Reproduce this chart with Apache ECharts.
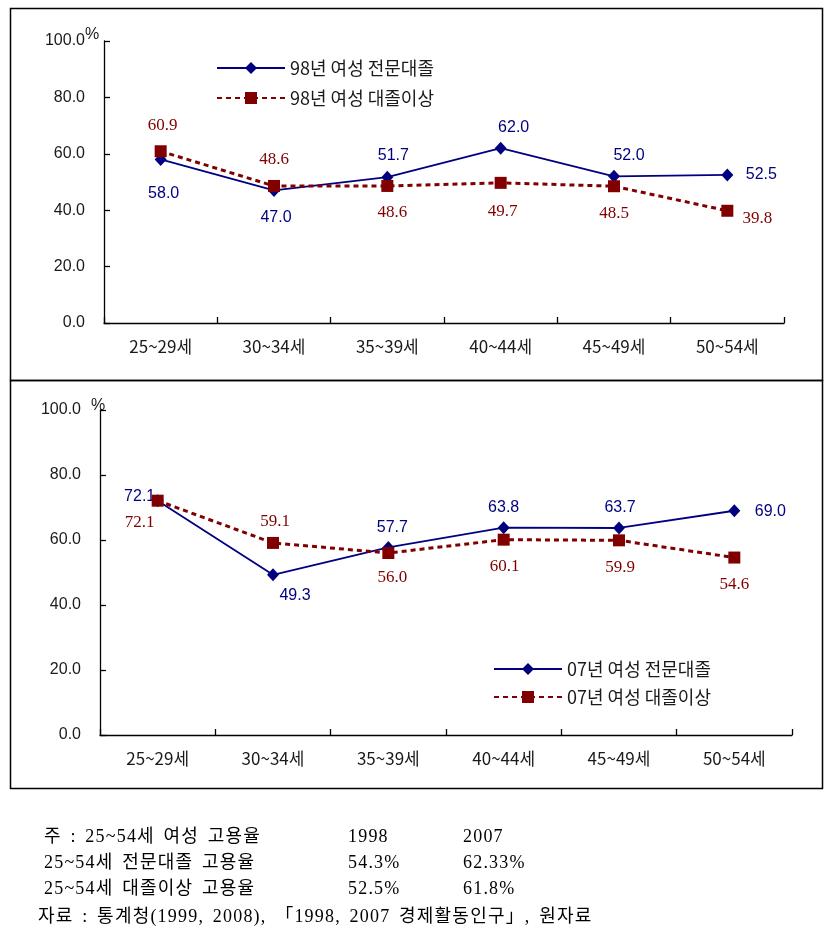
<!DOCTYPE html>
<html>
<head>
<meta charset="utf-8">
<script src="https://cdn.jsdelivr.net/npm/echarts@6/dist/echarts.min.js"></script>
<style>
html,body{margin:0;padding:0;background:#fff;}
#wrap{position:relative;width:834px;height:942px;}
#c{position:absolute;left:0;top:0;width:834px;height:942px;}
.note{position:absolute;font-family:"Liberation Serif","Noto Sans CJK KR",serif;font-size:18px;line-height:20px;color:#000;white-space:pre;letter-spacing:1.2px;word-spacing:3px;}
</style>
</head>
<body>
<div id="wrap"><div id="c"></div></div>
<script>
const categories = ['25~29세','30~34세','35~39세','40~44세','45~49세','50~54세'];
const college98 = [58.0, 47.0, 51.7, 62.0, 52.0, 52.5];
const univ98 = [60.9, 48.6, 48.6, 49.7, 48.5, 39.8];
const college07 = [72.1, 49.3, 57.7, 63.8, 63.7, 69.0];
const univ07 = [72.1, 59.1, 56.0, 60.1, 59.9, 54.6];
const seriesNames = ['98년 여성 전문대졸', '98년 여성 대졸이상', '07년 여성 전문대졸', '07년 여성 대졸이상'];
const noteLines = [
  ['주 : 25~54세 여성 고용율', '1998', '2007'],
  ['25~54세 전문대졸 고용율', '54.3%', '62.33%'],
  ['25~54세 대졸이상 고용율', '52.5%', '61.8%']
];
const sourceLine = '자료 : 통계청(1999, 2008), 「1998, 2007 경제활동인구」, 원자료';

// label offsets (style only)
const offCollege98 = [[3,34],[2,27],[6,-22],[13,-21],[15,-21],[34,0]];
const offUniv98 = [[2,-26],[0,-26],[5,27],[2,29],[0,27],[30,8]];
const offCollege07 = [[-18,-4],[22,21],[4,-20],[0,-20],[1,-20],[36,1]];
const offUniv07 = [[-18,22],[2,-21],[4,25],[1,27],[1,27],[0,27]];

// notes as HTML text
const wrap = document.getElementById('wrap');
function addNote(text, x, yc){
  const d = document.createElement('div');
  d.className = 'note';
  d.textContent = text;
  d.style.left = x + 'px';
  d.style.top = (yc - 10) + 'px';
  wrap.appendChild(d);
}
const noteY = [836, 862, 888];
const noteX = [44, 348, 463];
noteLines.forEach((row, i)=> row.forEach((t, j)=> addNote(t, noteX[j], noteY[i])));
addNote(sourceLine, 38, 916);

const BLUE = '#000080', RED = '#800000';
const chart = echarts.init(document.getElementById('c'), null, {renderer:'canvas'});

function mkData(vals, offs){
  return vals.map((v,i)=>({value:v, label:{offset:offs[i]}}));
}
function yAxis(gi){
  return {type:'value', gridIndex:gi, min:0, max:100, interval:20,
    axisLine:{show:true, lineStyle:{color:'#000', width:1.3}},
    axisTick:{show:true, inside:true, length:6, lineStyle:{color:'#000', width:1.3}},
    splitLine:{show:false},
    axisLabel:{formatter:v=>v.toFixed(1), color:'#1a1a1a', fontSize:16, fontFamily:'Liberation Sans, Arial, sans-serif', margin:19}};
}
function xAxis(gi){
  return {type:'category', gridIndex:gi, data:categories, boundaryGap:true,
    axisLine:{show:true, lineStyle:{color:'#000', width:1.3}},
    axisTick:{show:true, inside:true, length:6, lineStyle:{color:'#000', width:1.3}},
    axisLabel:{color:'#1a1a1a', fontSize:17, fontFamily:'"Noto Sans CJK KR", sans-serif', margin:15}};
}
function lineSeries(name, gi, vals, offs, isRed){
  return {
    name:name, type:'line', xAxisIndex:gi, yAxisIndex:gi,
    data: mkData(vals, offs),
    symbol: isRed ? 'rect' : 'diamond',
    symbolSize: isRed ? 12 : [12,13],
    itemStyle:{color: isRed?RED:BLUE},
    lineStyle: isRed ? {color:RED, width:3, type:[5,4]} : {color:BLUE, width:1.8},
    z: isRed ? 3 : 2,
    label:{show:true, position:'inside', formatter:p=>Number(p.value).toFixed(1),
      color: isRed?RED:BLUE, fontSize: isRed ? 17 : 16,
      fontFamily: isRed ? 'Liberation Serif, serif' : 'Liberation Sans, Arial, sans-serif',
      align:'center', verticalAlign:'middle'},
    animation:false
  };
}

const legendText = {fontSize:18, color:'#1a1a1a', fontFamily:'"Noto Sans CJK KR", sans-serif'};
const option = {
  backgroundColor:'transparent',
  animation:false,
  grid:[
    {left:104, top:41, width:680, height:282},
    {left:100, top:410, width:692, height:325}
  ],
  xAxis:[xAxis(0), xAxis(1)],
  yAxis:[yAxis(0), yAxis(1)],
  legend:[
    {data:[seriesNames[0], seriesNames[1]], orient:'vertical', left:211, top:54, itemWidth:68, itemHeight:15, itemGap:12,
     textStyle:legendText, selectedMode:false},
    {data:[seriesNames[2], seriesNames[3]], orient:'vertical', left:488, top:655, itemWidth:68, itemHeight:15, itemGap:10,
     textStyle:legendText, selectedMode:false}
  ],
  series:[
    lineSeries(seriesNames[0], 0, college98, offCollege98, false),
    lineSeries(seriesNames[1], 0, univ98, offUniv98, true),
    lineSeries(seriesNames[2], 1, college07, offCollege07, false),
    lineSeries(seriesNames[3], 1, univ07, offUniv07, true)
  ],
  graphic:[
    {type:'rect', shape:{x:10.5, y:8.5, width:812, height:372}, style:{fill:null, stroke:'#000', lineWidth:1.5}, silent:true},
    {type:'rect', shape:{x:10.5, y:380.5, width:812, height:408}, style:{fill:null, stroke:'#000', lineWidth:1.5}, silent:true},
    {type:'text', left:85, top:27, style:{text:'%', font:'16px "Liberation Sans", sans-serif', fill:'#1a1a1a'}},
    {type:'text', left:91, top:398, style:{text:'%', font:'16px "Liberation Sans", sans-serif', fill:'#1a1a1a'}}
  ]
};
chart.setOption(option);
</script>
</body>
</html>
